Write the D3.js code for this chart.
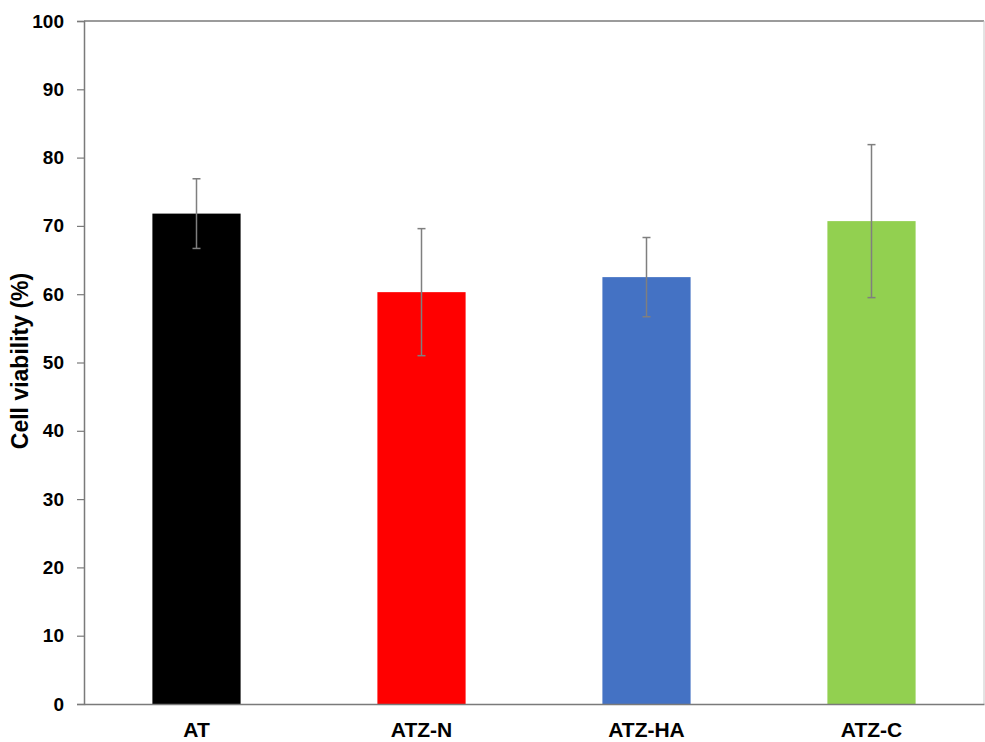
<!DOCTYPE html>
<html>
<head>
<meta charset="utf-8">
<script src="https://cdn.jsdelivr.net/npm/d3@7"></script>
<style>
  body { margin: 0; background: #fff; }
  text { font-family: "Liberation Sans", Arial, sans-serif; font-weight: bold; }
</style>
</head>
<body>
<div id="chart"></div>
<script>
// data
var categories = [ "AT", "ATZ-N", "ATZ-HA", "ATZ-C" ];
var viability = [ 71.8, 60.3, 62.5, 70.7 ];
var errors = [ 5.1, 9.3, 5.8, 11.2 ];
var colors = [ "#000000", "#ff0000", "#4472c4", "#92d050" ];
var yTicks = [ 0, 10, 20, 30, 40, 50, 60, 70, 80, 90, 100 ];

var margin = { top: 21, right: 1, bottom: 38, left: 84 },
    width = 985 - margin.left - margin.right,
    height = 742 - margin.top - margin.bottom;

var svg = d3.select( "#chart" ).append( "svg" )
    .attr( "width", 985 )
    .attr( "height", 742 )
    .append( "g" )
    .attr( "transform", "translate(" + margin.left + "," + margin.top + ")" );

var x = d3.scaleBand().domain( categories ).range( [ 0, width ] ).paddingInner( 0.608 ).paddingOuter( 0.304 );
var y = d3.scaleLinear().domain( [ 0, 100 ] ).range( [ height, 0 ] );

// frame: top line grey, right border lighter
svg.append( "line" )
    .attr( "x1", 0 ).attr( "x2", width )
    .attr( "y1", 0 ).attr( "y2", 0 )
    .attr( "stroke", "#7a7a7a" ).attr( "stroke-width", 1.5 );
svg.append( "line" )
    .attr( "x1", width ).attr( "x2", width )
    .attr( "y1", 0 ).attr( "y2", height )
    .attr( "stroke", "#c8c8c8" ).attr( "stroke-width", 1 );

// bars
svg.selectAll( ".bar" )
    .data( categories )
    .enter().append( "rect" )
    .attr( "class", "bar" )
    .attr( "x", function( d ) { return x( d ); } )
    .attr( "width", x.bandwidth() )
    .attr( "y", function( d, i ) { return y( viability[ i ] ); } )
    .attr( "height", function( d, i ) { return height - y( viability[ i ] ); } )
    .attr( "fill", function( d, i ) { return colors[ i ]; } );

// error bars
var eb = svg.selectAll( ".err" )
    .data( categories )
    .enter().append( "g" )
    .attr( "class", "err" )
    .attr( "stroke", "#7f7f7f" )
    .attr( "stroke-width", 1.5 );

eb.append( "line" )
    .attr( "x1", function( d ) { return x( d ) + x.bandwidth() / 2; } )
    .attr( "x2", function( d ) { return x( d ) + x.bandwidth() / 2; } )
    .attr( "y1", function( d, i ) { return y( viability[ i ] + errors[ i ] ); } )
    .attr( "y2", function( d, i ) { return y( viability[ i ] - errors[ i ] ); } );

[ 1, -1 ].forEach( function( s ) {
    eb.append( "line" )
        .attr( "x1", function( d ) { return x( d ) + x.bandwidth() / 2 - 4; } )
        .attr( "x2", function( d ) { return x( d ) + x.bandwidth() / 2 + 4; } )
        .attr( "y1", function( d, i ) { return y( viability[ i ] + s * errors[ i ] ); } )
        .attr( "y2", function( d, i ) { return y( viability[ i ] + s * errors[ i ] ); } );
});

// y axis
var yAxis = svg.append( "g" )
    .call( d3.axisLeft( y ).tickValues( yTicks ).tickSize( 7 ).tickPadding( 13 ) );
yAxis.select( ".domain" ).attr( "stroke", "#7a7a7a" ).attr( "stroke-width", 1.5 );
yAxis.selectAll( ".tick line" ).attr( "stroke", "#7a7a7a" ).attr( "stroke-width", 1.2 );
yAxis.selectAll( ".tick text" )
    .style( "font-size", "19px" )
    .attr( "fill", "#000" );

// x axis
var xAxis = svg.append( "g" )
    .attr( "transform", "translate(0," + height + ")" )
    .call( d3.axisBottom( x ).tickSize( 0 ).tickPadding( 18 ) );
xAxis.select( ".domain" ).attr( "stroke", "#7a7a7a" ).attr( "stroke-width", 1.5 );
xAxis.selectAll( ".tick text" )
    .style( "font-size", "21px" )
    .attr( "fill", "#000" );

// y axis title
svg.append( "text" )
    .attr( "transform", "rotate(-90)" )
    .attr( "x", -340 )
    .attr( "y", -56 )
    .style( "text-anchor", "middle" )
    .style( "font-size", "23px" )
    .text( "Cell viability (%)" );
</script>
</body>
</html>
